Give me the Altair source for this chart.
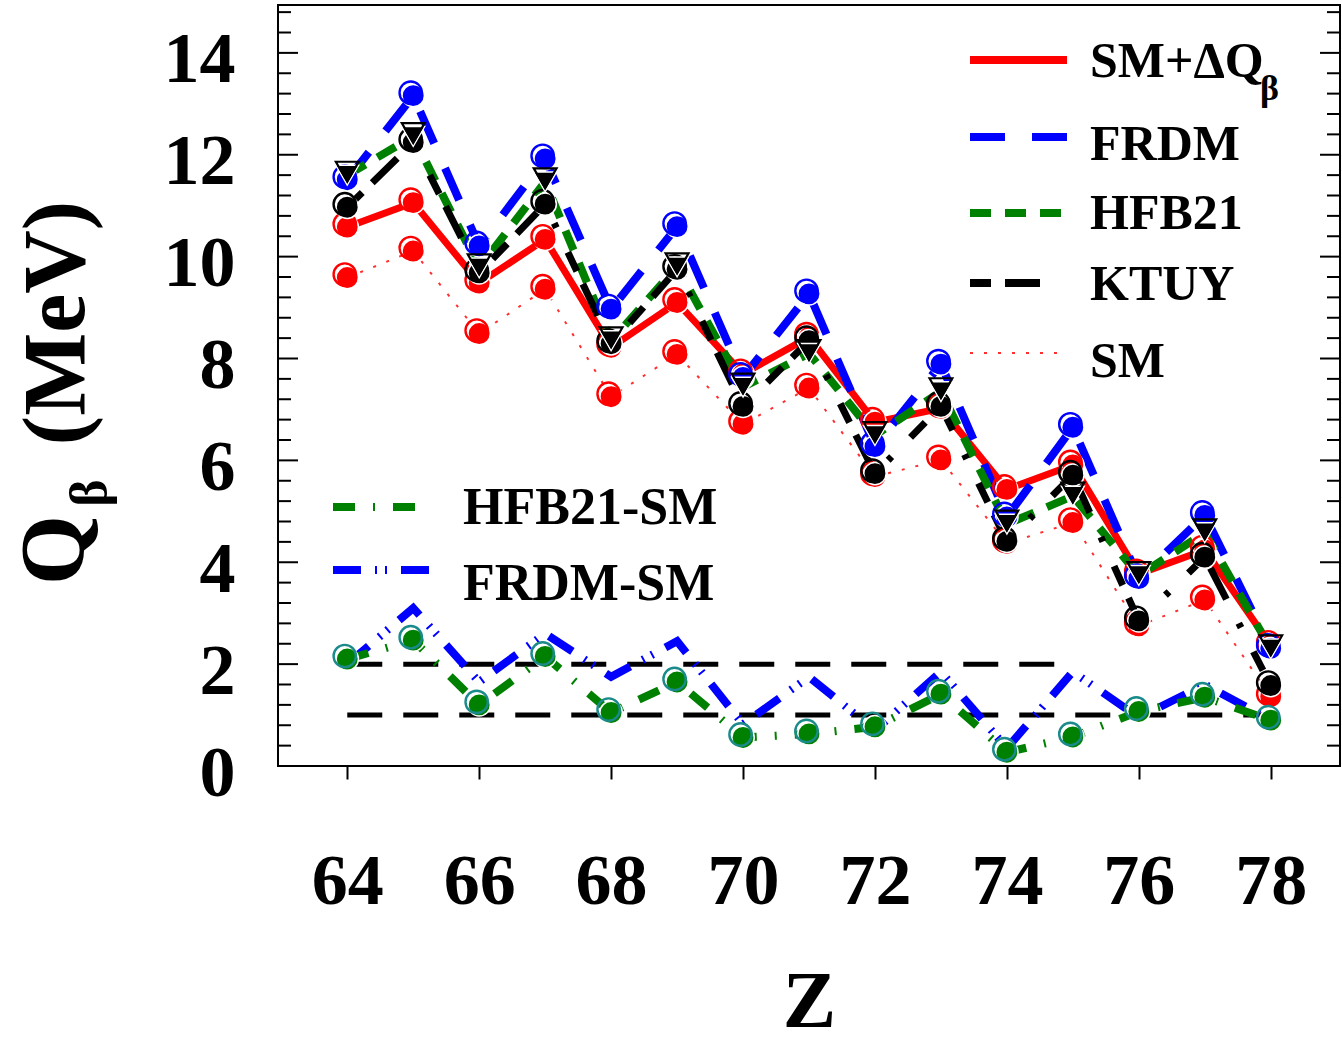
import altair as alt
import pandas as pd

# Proton number of the isotopes
Z = list(range(64, 79))

# Q_beta values (MeV) for each model
sm_dq = [10.58, 11.06, 9.48, 10.34, 8.22, 9.10, 7.70, 8.42, 6.75, 7.02, 5.43, 5.91, 3.77, 4.24, 2.37]
frdm = [11.51, 13.16, 10.21, 11.92, 8.97, 10.59, 7.63, 9.27, 6.27, 7.89, 4.89, 6.65, 3.68, 4.92, 2.31]
hfb21 = [11.60, 12.36, 9.78, 11.47, 8.35, 9.80, 7.44, 8.10, 6.49, 7.35, 4.75, 5.30, 3.74, 4.58, 2.30]
ktuy = [10.97, 12.24, 9.68, 11.03, 8.29, 9.75, 7.06, 8.35, 5.74, 7.06, 4.41, 5.71, 2.85, 4.10, 1.58]
sm = [9.59, 10.11, 8.49, 9.36, 7.25, 8.08, 6.71, 7.42, 5.68, 6.01, 4.37, 4.78, 2.75, 3.26, 1.36]

# differences with respect to the shell model
hfb21_sm = [2.10, 2.47, 1.20, 2.15, 1.05, 1.65, 0.56, 0.63, 0.77, 1.41, 0.27, 0.57, 1.07, 1.35, 0.90]
frdm_sm = [2.00, 3.10, 1.65, 2.60, 1.75, 2.45, 0.82, 1.75, 0.70, 1.85, 0.35, 1.85, 0.95, 1.60, 0.90]

# horizontal guide levels and their extent in Z
ref_levels = [2.0, 1.0]
ref_start = [64, 64]
ref_end = [75, 78]

x_ticks = [64, 66, 68, 70, 72, 74, 76, 78]
y_ticks = [0, 2, 4, 6, 8, 10, 12, 14]
y_minor = [round(0.4 * k, 1) for k in range(1, 38) if k % 5 != 0]

W, H = 1062, 761
FONT = "Liberation Serif"

df = pd.DataFrame({
    "Z": Z, "sm_dq": sm_dq, "frdm": frdm, "hfb21": hfb21, "ktuy": ktuy,
    "sm": sm, "hfb21_sm": hfb21_sm, "frdm_sm": frdm_sm,
})

xs = alt.Scale(domain=[62.95, 79.05], nice=False, zero=False)
ys = alt.Scale(domain=[0, 14.94], nice=False, zero=False)

x_axis = alt.Axis(
    values=x_ticks, format="d", title="Z", grid=False, domain=False,
    ticks=True, tickSize=13, tickWidth=2, tickColor="black",
    labelFont=FONT, labelFontSize=72, labelFontWeight="bold", labelColor="black",
    labelPadding=67, titleFont=FONT, titleFontSize=80, titleFontWeight="bold",
    titleColor="black", titlePadding=46,
)
y_axis = alt.Axis(
    values=y_ticks, format="d", title=None, grid=False, domain=False,
    ticks=False, tickSize=0, labelFont=FONT, labelFontSize=72,
    labelFontWeight="bold", labelColor="black", labelPadding=43, labelOffset=7,
)


def X(field="Z"):
    return alt.X(f"{field}:Q", scale=xs, axis=x_axis)


def Y(field):
    return alt.Y(f"{field}:Q", scale=ys, axis=y_axis)


def line(col, color, width, dash=None):
    kw = dict(color=color, strokeWidth=width, strokeCap="butt")
    if dash:
        kw["strokeDash"] = dash
    return alt.Chart(df).mark_line(**kw).encode(x=X(), y=Y(col))


def circles(col, color, ring=None, size=500):
    ring = ring or color
    body = alt.Chart(df).mark_point(
        shape="circle", filled=True, fill=color, stroke="white",
        strokeWidth=1.5, size=size, opacity=1,
    ).encode(x=X(), y=Y(col))
    edge = alt.Chart(df).mark_point(
        shape="circle", filled=False, stroke=ring, strokeWidth=2.4,
        size=size, opacity=1, xOffset=-2.5, yOffset=-3,
    ).encode(x=X(), y=Y(col))
    return body + edge


def triangles(col):
    body = alt.Chart(df).mark_point(
        shape="triangle-down", filled=True, fill="black", stroke="white",
        strokeWidth=1.5, size=520, opacity=1,
    ).encode(x=X(), y=Y(col))
    edge = alt.Chart(df).mark_point(
        shape="triangle-down", filled=False, stroke="black", strokeWidth=2.2,
        size=520, opacity=1, yOffset=-3.5,
    ).encode(x=X(), y=Y(col))
    return body + edge


# dashed guide lines at 1 and 2 MeV
ref_df = pd.DataFrame({"level": ref_levels, "z0": ref_start, "z1": ref_end})
guides = alt.Chart(ref_df).mark_rule(
    color="black", strokeWidth=5, strokeDash=[35, 21]
).encode(x=X("z0"), x2="z1:Q", y=Y("level"))

# inward ticks on the left and right frame
major_df = pd.DataFrame({"v": y_ticks})
minor_df = pd.DataFrame({"v": y_minor})
tick_layers = []
for data, length in [(major_df, 20), (minor_df, 13)]:
    tick_layers.append(alt.Chart(data).mark_rule(color="black", strokeWidth=2).encode(
        x=alt.value(0), x2=alt.value(length), y=Y("v")))
    tick_layers.append(alt.Chart(data).mark_rule(color="black", strokeWidth=2).encode(
        x=alt.value(W), x2=alt.value(W - length), y=Y("v")))

# model styles: colour, width, dash
styles = {
    "sm_dq": ("#ff0000", 7, None),
    "frdm": ("#0000ff", 8, [35, 27]),
    "hfb21": ("#008000", 8, [21, 14]),
    "ktuy": ("#000000", 7, [21, 14, 35, 27, 5, 27]),
    "sm": ("#ff3030", 2, [3, 11]),
    "hfb21_sm": ("#008000", 8, [22, 18, 2, 18]),
    "frdm_sm": ("#0000ff", 8, [28, 14, 2, 8, 2, 14]),
}

lines = [line(k, *styles[k]) for k in ["sm", "frdm_sm", "hfb21_sm", "sm_dq", "frdm", "hfb21", "ktuy"]]

markers = [
    circles("sm", "#ff0000"),
    circles("sm_dq", "#ff0000"),
    circles("frdm", "#0000ff"),
    circles("ktuy", "#000000"),
    triangles("hfb21"),
    circles("hfb21_sm", "#008000", ring="#1a8a8a"),
]

# legend entries
top_names = ["SM+ΔQ", "FRDM", "HFB21", "KTUY", "SM"]
top_keys = ["sm_dq", "frdm", "hfb21", "ktuy", "sm"]
top_line_y = [55, 132, 208, 278, 348]
top_text_y = [57, 140, 209, 280, 357]
low_names = ["HFB21-SM", "FRDM-SM"]
low_keys = ["hfb21_sm", "frdm_sm"]
low_line_y = [502, 565]
low_text_y = [503, 579]

legend_layers = []


def legend_row(name, key, x0, x1, ly, tx, ty, size):
    color, width, dash = styles[key]
    kw = dict(color=color, strokeWidth=2 if key == "sm" else 8)
    if dash:
        kw["strokeDash"] = dash
    src = pd.DataFrame({"label": [name]})
    rule = alt.Chart(src).mark_rule(**kw).encode(
        x=alt.value(x0), x2=alt.value(x1), y=alt.value(ly))
    txt = alt.Chart(src).mark_text(
        font=FONT, fontSize=size, fontWeight="bold", align="left",
        baseline="middle", color="black",
    ).encode(x=alt.value(tx), y=alt.value(ty), text="label:N")
    return [rule, txt]


for n, k, ly, ty in zip(top_names, top_keys, top_line_y, top_text_y):
    legend_layers += legend_row(n, k, 692, 789, ly, 812, ty, 50)
for n, k, ly, ty in zip(low_names, low_keys, low_line_y, low_text_y):
    legend_layers += legend_row(n, k, 55, 154, ly, 185, ty, 52)

one = pd.DataFrame({"t": ["β"]})
legend_layers.append(alt.Chart(one).mark_text(
    font=FONT, fontSize=36, fontWeight="bold", align="left", baseline="middle", color="black",
).encode(x=alt.value(982), y=alt.value(84), text="t:N"))

# rotated y-axis title Q_beta (MeV)
title_df = pd.DataFrame({"q": ["Q"], "b": ["β"], "u": ["(MeV)"]})
ytitle = [
    alt.Chart(title_df).mark_text(font=FONT, fontSize=90, fontWeight="bold", angle=270,
                                  align="center", baseline="middle", color="black")
    .encode(x=alt.value(-222), y=alt.value(545), text="q:N"),
    alt.Chart(title_df).mark_text(font=FONT, fontSize=52, fontWeight="bold", angle=270,
                                  align="center", baseline="middle", color="black")
    .encode(x=alt.value(-188), y=alt.value(488), text="b:N"),
    alt.Chart(title_df).mark_text(font=FONT, fontSize=88, fontWeight="bold", angle=270,
                                  align="center", baseline="middle", color="black")
    .encode(x=alt.value(-220), y=alt.value(318), text="u:N"),
]

chart = alt.layer(
    guides, *tick_layers, *lines, *markers, *legend_layers, *ytitle
).properties(
    width=W, height=H,
    autosize=alt.AutoSizeParams(type="none"),
    padding={"left": 278, "top": 5, "right": 2, "bottom": 284},
    background="white",
).configure_view(stroke="black", strokeWidth=2)

chart.save("out.html", embed_options={"renderer": "svg", "actions": False})
